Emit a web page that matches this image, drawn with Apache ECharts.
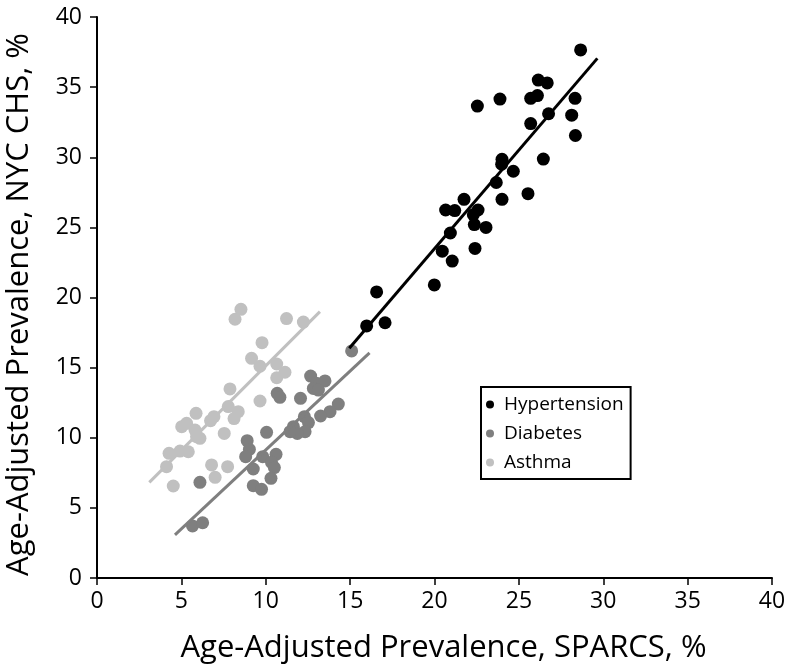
<!DOCTYPE html>
<html>
<head>
<meta charset="utf-8">
<script src="https://cdn.jsdelivr.net/npm/echarts@6/dist/echarts.min.js"></script>
<style>html,body{margin:0;padding:0;background:#fff}#c{width:794px;height:668px}</style>
</head>
<body>
<div id="c"></div>
<script>
var seriesNames = ['Hypertension', 'Diabetes', 'Asthma'];
var xTicks = [0, 5, 10, 15, 20, 25, 30, 35, 40];
var yTicks = [0, 5, 10, 15, 20, 25, 30, 35, 40];

var hypertension = [
  [28.66,37.65],[26.15,35.5],[26.68,35.3],[25.7,34.2],[26.1,34.4],[23.88,34.15],[22.54,33.65],
  [28.33,34.2],[26.76,33.1],[28.13,33.0],[25.7,32.4],[28.35,31.55],[24.0,29.85],[23.98,29.5],
  [26.45,29.87],[24.67,29.0],[23.66,28.2],[25.54,27.4],[24.0,27.0],[21.75,27.0],[20.66,26.24],
  [21.2,26.2],[22.58,26.24],[22.3,25.9],[22.36,25.2],[23.05,25.0],[20.94,24.6],[20.46,23.3],
  [21.05,22.6],[22.4,23.5],[19.99,20.9],[16.57,20.4],[15.98,17.97],[17.07,18.2]
];
var diabetes = [
  [12.66,14.4],[13.01,13.88],[13.51,14.05],[12.82,13.52],[13.12,13.4],[10.68,13.17],[10.84,12.88],
  [12.06,12.81],[14.3,12.4],[13.81,11.86],[13.25,11.55],[12.29,11.5],[12.53,11.08],[11.64,10.79],
  [12.33,10.43],[11.87,10.31],[11.44,10.43],[10.05,10.39],[8.9,9.79],[9.03,9.17],[8.81,8.65],
  [10.61,8.82],[9.82,8.65],[10.34,8.25],[9.26,7.77],[10.51,7.87],[10.31,7.11],[6.1,6.82],
  [9.26,6.58],[9.75,6.32],[5.66,3.71],[6.26,3.94],[15.09,16.19]
];
var asthma = [
  [8.53,19.16],[8.18,18.45],[11.23,18.5],[12.23,18.25],[9.78,16.78],[9.16,15.66],[9.66,15.1],
  [10.65,15.26],[11.14,14.67],[10.65,14.28],[7.88,13.48],[9.66,12.62],[5.87,11.74],[7.78,12.22],
  [8.37,11.86],[8.12,11.37],[6.93,11.5],[6.73,11.22],[5.31,11.03],[5.02,10.79],[5.81,10.55],
  [6.1,9.96],[5.9,10.08],[7.54,10.31],[4.27,8.89],[4.92,9.05],[5.41,9.0],[4.12,7.94],
  [6.79,8.06],[7.74,7.94],[7.0,7.18],[4.52,6.56]
];
var hypertensionFit = [[14.95,16.38],[29.65,37.05]];
var diabetesFit = [[4.62,3.07],[16.15,16.05]];
var asthmaFit = [[3.1,6.82],[13.21,18.99]];

var colors = ['#000000', '#7f7f7f', '#c0c0c0'];
var FONT = 'Open Sans, Noto Sans, sans-serif';

var chart = echarts.init(document.getElementById('c'));
var axisCommon = {
  type: 'value', min: 0, max: 40, interval: 5,
  axisLine: {show: true, lineStyle: {color: '#000', width: 2}},
  axisTick: {show: true, inside: false, length: 7, lineStyle: {color: '#000', width: 1.5}},
  splitLine: {show: false},
  nameLocation: 'middle'
};
function scatter(name, data, color) {
  return {name: name, type: 'scatter', data: data, symbol: 'circle', symbolSize: 13,
    itemStyle: {color: color, opacity: 1}, z: 3};
}
function fit(name, data, color) {
  return {name: name, type: 'line', data: data, symbol: 'none', silent: true,
    lineStyle: {color: color, width: 3}, z: 4};
}
chart.setOption({
  animation: false,
  grid: {left: 97, right: 22, top: 17, bottom: 90, containLabel: false, outerBoundsMode: 'none'},
  xAxis: Object.assign({}, axisCommon, {
    name: 'Age-Adjusted Prevalence, SPARCS, %',
    nameGap: 55,
    nameTextStyle: {fontSize: 31, color: '#000', fontFamily: FONT, padding: [0, 0, 0, 18]},
    axisLabel: {fontSize: 23, color: '#000', margin: 12, fontFamily: FONT,
      formatter: function (v) { return xTicks.indexOf(v) >= 0 ? String(v) : ''; }}
  }),
  yAxis: Object.assign({}, axisCommon, {
    name: 'Age-Adjusted Prevalence, NYC CHS, %',
    nameGap: 62,
    nameTextStyle: {fontSize: 31, color: '#000', fontFamily: FONT, padding: [0, 14, 0, 0]},
    axisLabel: {fontSize: 23, color: '#000', margin: 15, fontFamily: FONT,
      formatter: function (v) { return yTicks.indexOf(v) >= 0 ? String(v) : ''; }}
  }),
  legend: {
    data: seriesNames,
    orient: 'vertical',
    left: 481, top: 387,
    padding: [8, 7, 7, 5],
    itemGap: 10,
    itemWidth: 8, itemHeight: 8,
    icon: 'circle',
    borderColor: '#000', borderWidth: 2,
    textStyle: {fontSize: 19, lineHeight: 19, color: '#000', fontFamily: FONT, padding: [0, 0, 0, 5]}
  },
  series: [
    scatter(seriesNames[0], hypertension, colors[0]),
    scatter(seriesNames[1], diabetes, colors[1]),
    scatter(seriesNames[2], asthma, colors[2]),
    fit('HypertensionFit', hypertensionFit, colors[0]),
    fit('DiabetesFit', diabetesFit, colors[1]),
    fit('AsthmaFit', asthmaFit, colors[2])
  ]
});
</script>
</body>
</html>
